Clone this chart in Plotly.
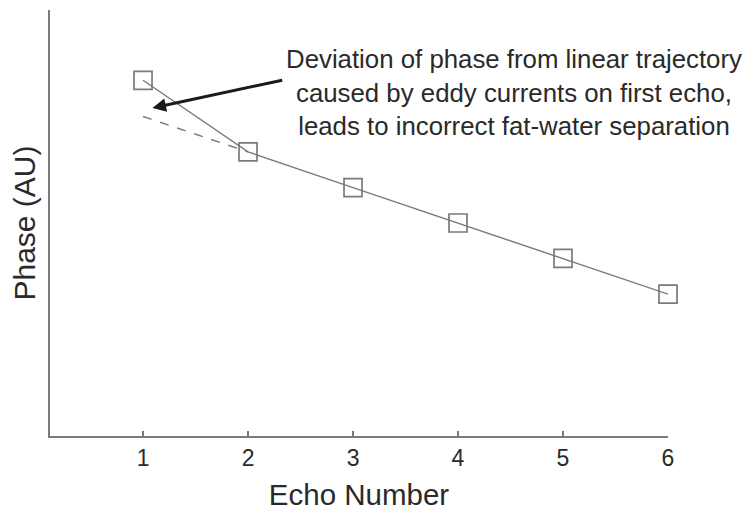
import plotly.graph_objects as go

# Measured phase at each echo (arbitrary units)
echo = [1, 2, 3, 4, 5, 6]
phase = [8.35, 6.67, 5.83, 5.0, 4.17, 3.33]

# Linear trajectory through echoes 2-6, extended back to echo 1
fit_echo = [1, 2]
fit_phase = [7.5, 6.67]

x_ticks = [1, 2, 3, 4, 5, 6]
x_tick_labels = ["1", "2", "3", "4", "5", "6"]

note_lines = [
    "Deviation of phase from linear trajectory",
    "caused by eddy currents on first echo,",
    "leads to incorrect fat-water separation",
]

FONT = "Liberation Sans, Arial, Helvetica, sans-serif"
GREY = "#7a7a7a"
TEXT = "#2a2a2a"

fig = go.Figure()

fig.add_trace(go.Scatter(
    x=fit_echo, y=fit_phase, mode="lines",
    line=dict(color=GREY, width=1.4, dash="dash"),
    hoverinfo="skip", showlegend=False,
))

fig.add_trace(go.Scatter(
    x=echo, y=phase, mode="lines+markers",
    line=dict(color=GREY, width=1.4),
    marker=dict(symbol="square-open", size=18, color=GREY, line=dict(width=1.7)),
    cliponaxis=False, showlegend=False,
))

# Arrow pointing at the deviated first echo
fig.add_annotation(
    x=1.09, y=7.70, ax=2.34, ay=8.36,
    xref="x", yref="y", axref="x", ayref="y",
    text="", showarrow=True, arrowhead=2, arrowsize=0.9,
    arrowwidth=3, arrowcolor="#1a1a1a",
)

fig.add_annotation(
    x=4.53, y=8.06, xref="x", yref="y",
    text="<br>".join(note_lines), showarrow=False,
    font=dict(family=FONT, size=25.8, color=TEXT),
    align="center", xanchor="center", yanchor="middle",
)

fig.update_layout(
    width=745, height=512,
    margin=dict(l=50, r=77, t=10, b=76),
    paper_bgcolor="white", plot_bgcolor="white",
    font=dict(family=FONT, color=TEXT),
    xaxis=dict(
        range=[0.114, 6], tickvals=x_ticks, ticktext=x_tick_labels,
        showgrid=False, zeroline=False, automargin=False,
        showline=True, linecolor=GREY, linewidth=2,
        ticks="inside", ticklen=5, tickcolor=GREY, tickwidth=1.5,
        tickfont=dict(size=23, color=TEXT),
        title=dict(text="Echo Number", font=dict(size=29.5, color=TEXT), standoff=15),
    ),
    yaxis=dict(
        range=[0, 10], showticklabels=False, ticks="",
        showgrid=False, zeroline=False, automargin=False,
        showline=True, linecolor=GREY, linewidth=2,
        title=dict(text="Phase (AU)", font=dict(size=30, color=TEXT), standoff=4),
    ),
)

fig.write_html("out.html")
